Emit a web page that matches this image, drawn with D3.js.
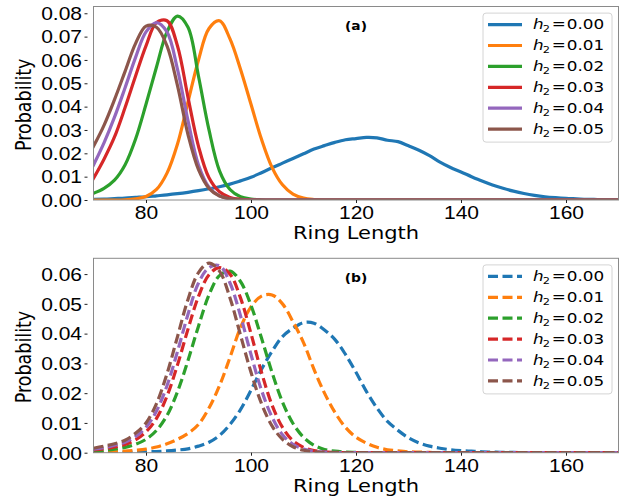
<!DOCTYPE html>
<html>
<head>
<meta charset="utf-8">
<script src="https://cdn.jsdelivr.net/npm/d3@7"></script>
<style>
    body { margin: 0; background: #ffffff; }
    svg { display: block; font-family: "DejaVu Sans", sans-serif; }
</style>
</head>
<body>
<svg id="chart" width="623" height="502"></svg>
<script>
// ring length grid (x) shared by every curve
const ringLength = [
    70, 72, 74, 76, 78, 80, 82, 84, 86, 88,
    90, 92, 94, 96, 98, 100, 102, 104, 106, 108,
    110, 112, 114, 116, 118, 120, 122, 124, 126, 128,
    130, 132, 134, 136, 138, 140, 142, 144, 146, 148,
    150, 152, 154, 156, 158, 160, 162, 164, 166, 168,
    170
];

const h2Labels = ["0.00", "0.01", "0.02", "0.03", "0.04", "0.05"];
const seriesColors = ["#1f77b4", "#ff7f0e", "#2ca02c", "#d62728", "#9467bd", "#8c564b"];
const xTickValues = [80, 100, 120, 140, 160];
const yTicksA = [0, 0.01, 0.02, 0.03, 0.04, 0.05, 0.06, 0.07, 0.08];
const yTicksB = [0, 0.01, 0.02, 0.03, 0.04, 0.05, 0.06];

// panel (a), solid lines
const probA_000 = [
    .0003, .0004, .0006, .0008, .0011, .0014, .0018, .0022, .0027, .0033,
    .0040, .0048, .0057, .0068, .0082, .0097, .0117, .0138, .0158, .0178,
    .0198, .0218, .0233, .0247, .0258, .0263, .0268, .0266, .0256, .0250,
    .0232, .0213, .0190, .0162, .0139, .0120, .0100, .0081, .0064, .0050,
    .0038, .0028, .0020, .0014, .0010, .0007, .0005, .0003, .0002, .0001,
    .0001
];
const probA_001 = [
    0, 0, 0, .0001, .0005, .0015, .0045, .0115, .0240, .0420,
    .0600, .0735, .0768, .0690, .0560, .0410, .0260, .0140, .0065, .0025,
    .0008, .0002, 0, 0, 0, 0, 0, 0, 0, 0,
    0, 0, 0, 0, 0, 0, 0, 0, 0, 0,
    0, 0, 0, 0, 0, 0, 0, 0, 0, 0,
    0
];
const probA_002 = [
    .0029, .0050, .0085, .0150, .0260, .0410, .0570, .0720, .0788, .0740,
    .0530, .0300, .0125, .0045, .0014, .0004, .0001, 0, 0, 0,
    0, 0, 0, 0, 0, 0, 0, 0, 0, 0,
    0, 0, 0, 0, 0, 0, 0, 0, 0, 0,
    0, 0, 0, 0, 0, 0, 0, 0, 0, 0,
    0
];
const probA_003 = [
    .0093, .0175, .0270, .0395, .0530, .0660, .0760, .0768, .0660, .0440,
    .0230, .0095, .0035, .0011, .0003, .0001, 0, 0, 0, 0,
    0, 0, 0, 0, 0, 0, 0, 0, 0, 0,
    0, 0, 0, 0, 0, 0, 0, 0, 0, 0,
    0, 0, 0, 0, 0, 0, 0, 0, 0, 0,
    0
];
const probA_004 = [
    .0150, .0245, .0355, .0480, .0610, .0720, .0760, .0720, .0560, .0340,
    .0150, .0055, .0018, .0005, .0001, 0, 0, 0, 0, 0,
    0, 0, 0, 0, 0, 0, 0, 0, 0, 0,
    0, 0, 0, 0, 0, 0, 0, 0, 0, 0,
    0, 0, 0, 0, 0, 0, 0, 0, 0, 0,
    0
];
const probA_005 = [
    .0230, .0320, .0430, .0550, .0670, .0745, .0740, .0660, .0490, .0280,
    .0130, .0050, .0017, .0005, .0001, 0, 0, 0, 0, 0,
    0, 0, 0, 0, 0, 0, 0, 0, 0, 0,
    0, 0, 0, 0, 0, 0, 0, 0, 0, 0,
    0, 0, 0, 0, 0, 0, 0, 0, 0, 0,
    0
];

// panel (b), dashed lines
const probB_000 = [
    0, 0, .0001, .0001, .0002, .0003, .0004, .0006, .0009, .0013,
    .0022, .0035, .0058, .0095, .0145, .0210, .0280, .0340, .0390, .0418,
    .0437, .0435, .0412, .0380, .0330, .0270, .0205, .0150, .0105, .0075,
    .0050, .0033, .0022, .0015, .0010, .0007, .0005, .0003, .0002, .0001,
    .0001, 0, 0, 0, 0, 0, 0, 0, 0, 0,
    0
];
const probB_001 = [
    .0001, .0002, .0003, .0005, .0008, .0012, .0019, .0030, .0045, .0065,
    .0095, .0150, .0225, .0320, .0420, .0490, .0526, .0530, .0500, .0440,
    .0370, .0280, .0200, .0135, .0085, .0052, .0032, .0018, .0010, .0006,
    .0003, .0002, .0001, 0, 0, 0, 0, 0, 0, 0,
    0, 0, 0, 0, 0, 0, 0, 0, 0, 0,
    0
];
const probB_002 = [
    .0005, .0008, .0012, .0018, .0028, .0045, .0075, .0125, .0205, .0310,
    .0425, .0530, .0595, .0610, .0575, .0495, .0385, .0270, .0170, .0098,
    .0052, .0025, .0011, .0005, .0002, .0001, 0, 0, 0, 0,
    0, 0, 0, 0, 0, 0, 0, 0, 0, 0,
    0, 0, 0, 0, 0, 0, 0, 0, 0, 0,
    0
];
const probB_003 = [
    .0009, .0013, .0019, .0028, .0043, .0070, .0115, .0190, .0295, .0415,
    .0525, .0598, .0622, .0600, .0520, .0400, .0270, .0160, .0085, .0040,
    .0018, .0007, .0003, .0001, 0, 0, 0, 0, 0, 0,
    0, 0, 0, 0, 0, 0, 0, 0, 0, 0,
    0, 0, 0, 0, 0, 0, 0, 0, 0, 0,
    0
];
const probB_004 = [
    .0012, .0017, .0025, .0035, .0054, .0085, .0140, .0225, .0340, .0465,
    .0570, .0622, .0628, .0570, .0460, .0330, .0210, .0120, .0060, .0028,
    .0012, .0005, .0002, .0001, 0, 0, 0, 0, 0, 0,
    0, 0, 0, 0, 0, 0, 0, 0, 0, 0,
    0, 0, 0, 0, 0, 0, 0, 0, 0, 0,
    0
];
const probB_005 = [
    .0015, .0022, .0030, .0042, .0065, .0100, .0165, .0265, .0390, .0515,
    .0605, .0637, .0610, .0520, .0395, .0270, .0165, .0090, .0045, .0020,
    .0008, .0003, .0001, 0, 0, 0, 0, 0, 0, 0,
    0, 0, 0, 0, 0, 0, 0, 0, 0, 0,
    0, 0, 0, 0, 0, 0, 0, 0, 0, 0,
    0
];

const seriesA = [probA_000, probA_001, probA_002, probA_003, probA_004, probA_005];
const seriesB = [probB_000, probB_001, probB_002, probB_003, probB_004, probB_005];
seriesA.concat(seriesB).forEach((s, i) => {
    if (s.length !== ringLength.length) throw new Error(`series ${i} has ${s.length} values`);
});

// the original picture is stretched sideways, so text gets the same stretch
const TEXT_STRETCH = 1.2;
const PLOT_LEFT = 93.5, PLOT_RIGHT = 618.5;

const svg = d3.select("#chart");
const x = d3.scaleLinear().domain([70, 170]).range([PLOT_LEFT, PLOT_RIGHT]);

const stretchedText = (parent, px, py, str) => parent.append("g")
    .attr("transform", `translate(${px},${py}) scale(${TEXT_STRETCH},1)`)
    .append("text")
    .text(str);

const drawPanel = (top, bottom, yMax, yTicks, series, dashed, tag) => {
    const y = d3.scaleLinear().domain([0, yMax]).range([bottom, top]);
    const panel = svg.append("g");

    panel.append("clipPath")
        .attr("id", `clip-${tag}`)
        .append("rect")
        .attr("x", PLOT_LEFT)
        .attr("y", top)
        .attr("width", PLOT_RIGHT - PLOT_LEFT)
        .attr("height", bottom - top);

    const line = d3.line()
        .x((d, i) => x(ringLength[i]))
        .y((d) => y(d))
        .curve(d3.curveCatmullRom.alpha(0.5));

    panel.append("g")
        .attr("clip-path", `url(#clip-${tag})`)
        .selectAll("path")
        .data(series)
        .join("path")
        .attr("d", (d) => line(d))
        .attr("fill", "none")
        .attr("stroke", (d, i) => seriesColors[i])
        .attr("stroke-width", 3.2)
        .attr("stroke-linejoin", "round")
        .attr("stroke-linecap", dashed ? "butt" : "square")
        .attr("stroke-dasharray", dashed ? "10,4.5" : null);

    // frame
    panel.append("rect")
        .attr("x", PLOT_LEFT)
        .attr("y", top)
        .attr("width", PLOT_RIGHT - PLOT_LEFT)
        .attr("height", bottom - top)
        .attr("fill", "none")
        .attr("stroke", "#8a8a8a")
        .attr("stroke-width", 1);

    const xAxis = panel.append("g")
        .attr("transform", `translate(0,${bottom})`)
        .call(d3.axisBottom(x).tickValues(xTickValues).tickSizeInner(3).tickSizeOuter(0));
    xAxis.select(".domain").remove();
    xAxis.selectAll(".tick line").attr("stroke", "#222");
    xAxis.selectAll(".tick text")
        .attr("y", 6.6)
        .attr("dy", "0.71em")
        .attr("transform", `scale(${TEXT_STRETCH},1)`)
        .style("font-size", "17.5px")
        .attr("fill", "#000");

    const yAxis = panel.append("g")
        .attr("transform", `translate(${PLOT_LEFT},0)`)
        .call(d3.axisLeft(y).tickValues(yTicks).tickFormat(d3.format(".2f")).tickSizeInner(9).tickSizeOuter(0));
    yAxis.select(".domain").remove();
    yAxis.selectAll(".tick line")
        .attr("stroke", "#222")
        .attr("stroke-dasharray", "0,6,3,50");
    yAxis.selectAll(".tick text")
        .attr("x", -9.6)
        .attr("dy", "0.36em")
        .attr("transform", `scale(${TEXT_STRETCH},1)`)
        .style("font-size", "17.5px")
        .attr("fill", "#000");

    stretchedText(panel, (PLOT_LEFT + PLOT_RIGHT) / 2, bottom + 39.3, "Ring Length")
        .attr("text-anchor", "middle")
        .style("font-size", "17.5px");

    panel.append("g")
        .attr("transform", `translate(31,${(top + bottom) / 2 + 1.5}) scale(${TEXT_STRETCH},1) rotate(-90)`)
        .append("text")
        .attr("text-anchor", "middle")
        .style("font-size", "17.5px")
        .text("Probability");

    stretchedText(panel, 356, top + 23.7, `(${tag})`)
        .attr("text-anchor", "middle")
        .style("font-size", "11.5px")
        .style("font-weight", "bold");

    // legend
    const legendTop = top + 6.6;
    const legend = panel.append("g");
    legend.append("rect")
        .attr("x", 483)
        .attr("y", legendTop)
        .attr("width", 129)
        .attr("height", 129)
        .attr("rx", 3)
        .attr("fill", "#ffffff")
        .attr("fill-opacity", 0.8)
        .attr("stroke", "#d4d4d4")
        .attr("stroke-width", 1);

    h2Labels.forEach((label, i) => {
        const rowY = legendTop + 11.5 + i * 20.9;
        legend.append("line")
            .attr("x1", 488)
            .attr("x2", 522)
            .attr("y1", rowY)
            .attr("y2", rowY)
            .attr("stroke", seriesColors[i])
            .attr("stroke-width", 3.2)
            .attr("stroke-dasharray", dashed ? "10,4.5" : null);

        // h_2 = value, laid out piece by piece like mathtext
        const row = legend.append("g")
            .attr("transform", `translate(533,${rowY + 4.8}) scale(${TEXT_STRETCH},1)`)
            .style("font-size", "14px");
        row.append("text").style("font-style", "italic").text("h");
        row.append("text").attr("x", 8.2).attr("y", 3).style("font-size", "9.5px").text("2");
        row.append("text").attr("x", 15.6).text("=");
        row.append("text").attr("x", 28.2).text(label);
    });
};

drawPanel(6.5, 200, 0.0829, yTicksA, seriesA, false, "a");
drawPanel(258.3, 452.7, 0.0653, yTicksB, seriesB, true, "b");
</script>
</body>
</html>
